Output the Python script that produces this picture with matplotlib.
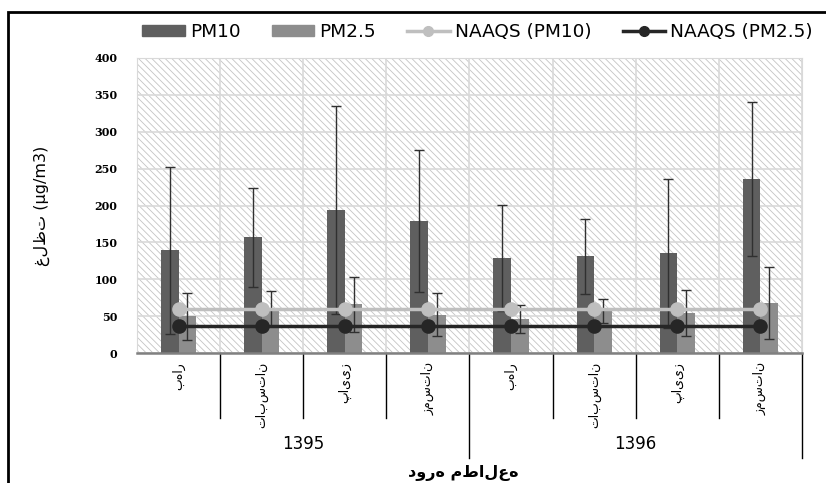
import matplotlib
matplotlib.use("Agg")
import matplotlib.pyplot as plt
import numpy as np
from matplotlib.patches import Rectangle
from matplotlib.lines import Line2D

# data
seasons = ["بهار", "تابستان", "پاییز", "زمستان"] * 2
years = ["1395", "1396"]
pm10 = [139, 157, 194, 179, 129, 131, 135, 236]
pm10_err = [113, 67, 141, 96, 72, 51, 101, 104]
pm25 = [50, 60, 66, 52, 46, 57, 54, 68]
pm25_err = [32, 24, 37, 29, 19, 16, 31, 49]
naaqs_pm10 = [60] * 8
naaqs_pm25 = [37] * 8

W, H = 826, 483
plt.rcParams['hatch.linewidth'] = 0.6
plt.rcParams['hatch.color'] = '#c4c4c4'
fig = plt.figure(figsize=(W / 100, H / 100), dpi=100)

# frame round the chart
fig.add_artist(Rectangle((8 / W, -0.1), 1.2, 1 - 12 / H + 0.1, transform=fig.transFigure,
                         fill=False, edgecolor='black', linewidth=2))

ax = fig.add_axes([137 / W, 1 - 353 / H, 665 / W, 295 / H])
x = np.arange(len(pm10))
bw = 0.2125

ax.add_patch(Rectangle((0, 0), 1, 1, transform=ax.transAxes, facecolor='white',
                       hatch='\\\\\\\\\\', edgecolor='#c4c4c4', linewidth=0, zorder=0))

ax.bar(x - bw / 2, pm10, bw, color='#5f5f5f', zorder=2)
ax.bar(x + bw / 2, pm25, bw, color='#8d8d8d', zorder=2)
ax.errorbar(x - bw / 2, pm10, yerr=pm10_err, fmt='none', ecolor='#303030',
            elinewidth=1, capsize=3.3, capthick=1, zorder=3)
ax.errorbar(x + bw / 2, pm25, yerr=pm25_err, fmt='none', ecolor='#303030',
            elinewidth=1, capsize=3.3, capthick=1, zorder=3)
ax.plot(x, naaqs_pm10, color='#bfbfbf', lw=2.5, marker='o', ms=9.5, zorder=4)
ax.plot(x, naaqs_pm25, color='#262626', lw=2.5, marker='o', ms=9.5, zorder=4)

ax.set_xlim(-0.5, 7.5)
ax.set_ylim(0, 400)
ax.set_yticks(range(0, 401, 50))
ax.set_yticklabels([str(v) for v in range(0, 401, 50)], fontsize=8, fontweight='bold',
                   family='DejaVu Serif')
ax.set_xticks(np.arange(-0.5, 8, 1))
ax.set_xticklabels([])
ax.tick_params(axis='both', length=0)
ax.tick_params(axis='y', pad=14)
ax.grid(True, color='#d9d9d9', lw=1.2, zorder=1)
ax.set_axisbelow(True)
for s in ['top', 'right', 'left']:
    ax.spines[s].set_color('#d9d9d9')
ax.spines['bottom'].set_color('#808080')
ax.spines['bottom'].set_linewidth(1.8)
ax.spines['bottom'].set_zorder(5)

# two-level category axis
trans = ax.get_xaxis_transform()
for i in range(1, 9):
    bottom = -0.355 if i in (4, 8) else -0.22
    ax.add_line(Line2D([i - 0.5, i - 0.5], [0, bottom], transform=trans, color='black',
                       lw=1, clip_on=False))
for i, s in enumerate(seasons):
    ax.text(i, -0.03, s, transform=trans, rotation=90, ha='center', va='top',
            fontsize=9, family='DejaVu Sans')
for g, yr in enumerate(years):
    ax.text(1.5 + 4 * g, -0.31, yr, transform=trans, ha='center', va='center',
            fontsize=12, family='DejaVu Sans')

ax.set_ylabel("غلظت (µg/m3)", fontsize=11.5, family='DejaVu Sans')
ax.yaxis.set_label_coords(-(137 - 50) / 665, 0.5)
fig.text(463 / W, 1 - 473 / H, "دوره مطالعه", ha='center', va='center', fontsize=11.5,
         fontweight='bold', family='DejaVu Sans')

handles = [
    Rectangle((0, 0), 1, 1, color='#5f5f5f'),
    Rectangle((0, 0), 1, 1, color='#8d8d8d'),
    Line2D([], [], color='#bfbfbf', lw=2.5, marker='o', ms=7),
    Line2D([], [], color='#262626', lw=2.5, marker='o', ms=7),
]
fig.legend(handles, ["PM10", "PM2.5", "NAAQS (PM10)", "NAAQS (PM2.5)"], loc='center',
           bbox_to_anchor=(477.5 / W, 1 - 32 / H), ncol=4, frameon=False,
           prop={'family': 'DejaVu Sans', 'size': 13.3}, handlelength=2.3,
           handleheight=0.6, columnspacing=1.7, handletextpad=0.27)

fig.savefig("out.png", dpi=100)
